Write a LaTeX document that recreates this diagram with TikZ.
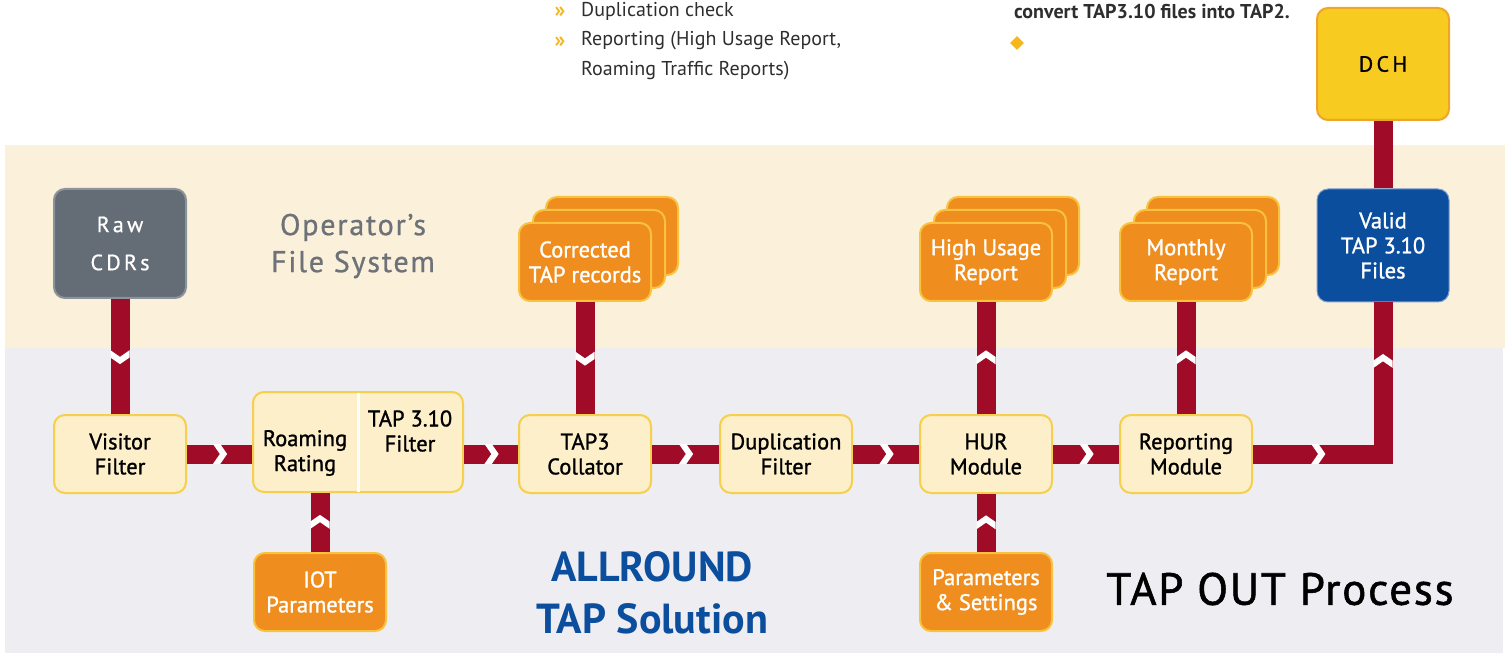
\documentclass[tikz,border=0pt]{standalone}
\usepackage{fontspec}
\setmainfont{PT Sans}
\newfontfamily\boxfont[FakeBold=1.2]{PT Sans}
\newfontfamily\widefont[LetterSpace=15,FakeBold=0.8]{PT Sans}
\newfontfamily\fsfont[LetterSpace=6,FakeBold=0.8]{PT Sans}
\newfontfamily\titlefont[LetterSpace=4,FakeBold=1.2]{PT Sans}
\usetikzlibrary{decorations.markings,shadows,shapes.geometric}

\definecolor{bandtop}{HTML}{FBF0DA}
\definecolor{bandlow}{HTML}{EDEDF2}
\definecolor{procfill}{HTML}{FCEFC9}
\definecolor{procline}{HTML}{F6CF4C}
\definecolor{orfill}{HTML}{EF8D1E}
\definecolor{orline}{HTML}{F8C23E}
\definecolor{linkred}{HTML}{A00C27}
\definecolor{tapblue}{HTML}{0C4E9E}
\definecolor{tapline}{HTML}{7E9CCF}
\definecolor{rawgray}{HTML}{646C76}
\definecolor{rawline}{HTML}{8C939C}
\definecolor{dchfill}{HTML}{F7CB1F}
\definecolor{dchline}{HTML}{EFA52A}
\definecolor{bullet}{HTML}{F5B71C}
\definecolor{toptext}{HTML}{2E2E2E}
\definecolor{fsgray}{HTML}{6D7279}

\begin{document}
\begin{tikzpicture}[x=1pt, y=-1pt,
    proc/.style={draw=procline, fill=procfill, line width=2pt,
                 rounded corners=11pt, minimum width=132pt, minimum height=78pt,
                 align=center, inner sep=2pt, font=\boxfont\fontsize{22.5}{25}\selectfont},
    outbox/.style={proc, draw=orline, fill=orfill, text=white},
    stack/.style={outbox,
      copy shadow={shadow xshift=27pt, shadow yshift=26pt,
                   fill=orfill, draw=orline, line width=2pt},
      copy shadow={shadow xshift=14pt, shadow yshift=13pt,
                   fill=orfill, draw=orline, line width=2pt}},
    store/.style={proc, line width=1pt, minimum height=112pt},
    label/.style={align=center, inner sep=0pt},
    link/.style={draw=linkred, line width=19pt},
    chev/.style={postaction={decorate, decoration={markings,
        mark=at position #1 with {
          \begin{scope}
            \clip (-12,-9.5) rectangle (12,9.5);
            \draw[white, line width=6pt] (-5,-13) -- (4,0) -- (-5,13);
          \end{scope}}}}},
    chev/.default=0.5
  ]
  \useasboundingbox (0,0) rectangle (1507,668);

  % bands
  \fill[bandtop] (5,145) rectangle (1505,348);
  \fill[bandlow] (5,348) rectangle (1503,653);

  % text above the picture
  \node[label, text=bullet, font=\bfseries\fontsize{22}{22}\selectfont] (b1) at (560,12) {»};
  \node[label, text=bullet, font=\bfseries\fontsize{22}{22}\selectfont] (b2) at (560,42) {»};
  \node[label, anchor=west, text=toptext, font=\fontsize{20}{24}\selectfont] (t1) at (581,11) {Duplication check};
  \node[label, anchor=west, text=toptext, font=\fontsize{20}{24}\selectfont] (t2) at (581,41) {Reporting (High Usage Report,};
  \node[label, anchor=west, text=toptext, font=\fontsize{20}{24}\selectfont] (t3) at (581,71) {Roaming Traffic Reports)};
  \node[label, anchor=east, text=toptext, font=\bfseries\fontsize{20}{24}\selectfont] (conv) at (1290,12) {convert TAP3.10 files into TAP2.};
  \node[diamond, fill=bullet, inner sep=0pt, minimum size=14pt] (tick) at (1017,43) {};

  % operator side
  \node[proc, fill=rawgray, draw=rawline, text=white, minimum height=109pt,
        font=\widefont\fontsize{22}{38}\selectfont] (raw) at (120,243.5) {Raw\\CDRs};
  \node[label, text=fsgray, font=\fsfont\fontsize{30}{37}\selectfont] (fsys) at (353,246) {Operator’s\\File System};
  \node[stack] (corr) at (585,262) {Corrected\\TAP records};
  \node[stack] (high) at (986,262) {High Usage\\Report};
  \node[stack] (month) at (1186,262) {Monthly\\Report};
  \node[store, fill=tapblue, draw=tapline, text=white, minimum height=113pt] (valid) at (1383,245.5) {Valid\\TAP 3.10\\Files};
  \node[store, fill=dchfill, draw=dchline, line width=2pt,
        font=\widefont\fontsize{22}{26}\selectfont] (dch) at (1383,64) {DCH};

  % TAP solution
  \node[proc] (visit) at (120,454) {Visitor\\Filter};
  \node[proc, minimum width=210pt, minimum height=100pt] (rr) at (358,442) {};
  \draw[white, line width=3pt, shorten <=1.5pt, shorten >=1.5pt] (rr.north) -- (rr.south);
  \node[label, font=\boxfont\fontsize{22.5}{25}\selectfont] (rating) at (305,453) {Roaming\\Rating};
  \node[label, font=\boxfont\fontsize{22.5}{25}\selectfont] (tapflt) at (410,431) {TAP 3.10\\Filter};
  \node[proc] (coll) at (585,454) {TAP3\\Collator};
  \node[proc] (dup) at (786,454) {Duplication\\Filter};
  \node[proc] (hur) at (986,454) {HUR\\Module};
  \node[proc] (rep) at (1186,454) {Reporting\\Module};
  \node[outbox] (iot) at (320,592) {IOT\\Parameters};
  \node[outbox] (param) at (986,592) {Parameters\\\& Settings};

  \node[label, text=tapblue, font=\bfseries\fontsize{42}{52}\selectfont] (allround) at (652,593) {ALLROUND\\TAP Solution};
  \node[label, font=\titlefont\fontsize{45}{52}\selectfont] (tapout) at (1280,589) {TAP OUT Process};

  % connectors
  \draw[link, chev] (raw) -- (visit);
  \draw[link, chev] (visit) -- (visit -| rr.west);
  \draw[link, chev] (rr.east |- coll) -- (coll);
  \draw[link, chev] (coll) -- (dup);
  \draw[link, chev] (dup) -- (hur);
  \draw[link, chev] (hur) -- (rep);
  \draw[link, chev] (iot) -- (iot |- rr.south);
  \draw[link, chev] (corr) -- (coll);
  \draw[link, chev] (hur) -- (high);
  \draw[link, chev] (month |- rep.north) -- (month);
  \draw[link, chev] (param) -- (hur);
  \draw[link, chev=0.23, chev=0.79] (rep) -| (valid);
  \draw[link] (valid) -- (dch);
\end{tikzpicture}
\end{document}
